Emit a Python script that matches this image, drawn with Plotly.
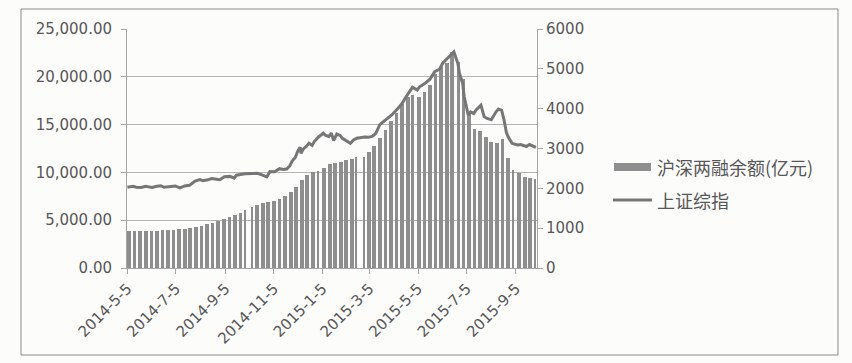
import plotly.graph_objects as go
import pandas as pd

# ---------------- data ----------------
# weekly two-financing balance (亿元), one value per trading week (week starting Monday)
week_starts = pd.date_range("2014-05-05", "2015-09-28", freq="W-MON")
margin_balance = [
    3900, 3900, 3890, 3890, 3900, 3910, 3930, 3960, 4020,            # 2014-05 .. 06-30
    4080, 4130, 4200, 4300, 4420, 4600, 4750, 4920,                  # 07-07 .. 08-25
    5100, 5300, 5520, 5780, 6080,                                    # 09-01 .. 09-29
    6400, 6600, 6750, 6900, 7050, 7250, 7500, 7900,                  # 10-06 .. 11-24
    8500, 9200, 9700, 10000, 10180,                                  # 12-01 .. 12-29
    10500, 10850, 11000, 11100, 11250, 11450, 11580, 11650,          # 2015-01-05 .. 02-23
    12100, 12800, 13600, 14400, 15400,                               # 03-02 .. 03-30
    16200, 17200, 17900, 18100, 17900, 18400, 19100, 20300,          # 04-06 .. 05-25
    21000, 21400, 22600, 21600, 19800,                               # 06-01 .. 06-29
    16200, 14500, 14300, 13700, 13200, 13100, 13500, 11500,          # 07-06 .. 08-24
    10300, 9900, 9550, 9380, 9280,                                   # 08-31 .. 09-28
]

# exchange holidays (weekdays without trading) and last trading day
holidays = [
    "2014-06-02", "2014-09-08",
    "2014-10-01", "2014-10-02", "2014-10-03", "2014-10-06", "2014-10-07",
    "2015-01-01", "2015-01-02",
    "2015-02-18", "2015-02-19", "2015-02-20", "2015-02-23", "2015-02-24",
    "2015-04-06", "2015-05-01", "2015-06-22", "2015-09-03", "2015-09-04",
]
last_day = "2015-09-30"

# Shanghai Composite index
sse_dates = [
    "2014-05-05", "2014-05-12", "2014-05-16", "2014-05-22", "2014-05-28", "2014-06-05",
    "2014-06-11", "2014-06-16", "2014-06-20", "2014-06-26", "2014-07-01", "2014-07-04",
    "2014-07-10", "2014-07-16", "2014-07-22", "2014-07-25", "2014-07-29", "2014-08-04",
    "2014-08-08", "2014-08-14", "2014-08-19", "2014-08-25", "2014-08-29", "2014-09-04",
    "2014-09-11", "2014-09-16", "2014-09-19", "2014-09-24", "2014-09-30", "2014-10-10",
    "2014-10-15", "2014-10-21", "2014-10-27", "2014-10-31", "2014-11-06", "2014-11-12",
    "2014-11-17", "2014-11-21", "2014-11-25", "2014-11-28", "2014-12-02", "2014-12-05",
    "2014-12-08", "2014-12-09", "2014-12-12", "2014-12-16", "2014-12-19", "2014-12-23",
    "2014-12-26", "2014-12-31", "2015-01-06", "2015-01-09", "2015-01-13", "2015-01-16",
    "2015-01-19", "2015-01-23", "2015-01-27", "2015-01-30", "2015-02-03", "2015-02-09",
    "2015-02-13", "2015-02-17", "2015-02-27", "2015-03-04", "2015-03-09", "2015-03-13",
    "2015-03-18", "2015-03-25", "2015-04-02", "2015-04-10", "2015-04-15", "2015-04-20",
    "2015-04-24", "2015-04-28", "2015-05-04", "2015-05-07", "2015-05-14", "2015-05-20",
    "2015-05-26", "2015-06-01", "2015-06-05", "2015-06-11", "2015-06-15", "2015-06-19",
    "2015-06-24", "2015-06-26", "2015-06-30", "2015-07-02", "2015-07-07", "2015-07-10",
    "2015-07-14", "2015-07-17", "2015-07-23", "2015-07-27", "2015-07-30", "2015-08-05",
    "2015-08-11", "2015-08-14", "2015-08-18", "2015-08-21", "2015-08-24", "2015-08-26",
    "2015-08-31", "2015-09-07", "2015-09-11", "2015-09-15", "2015-09-18", "2015-09-22",
    "2015-09-25", "2015-09-30",
]
sse_values = [
    2026, 2050, 2026, 2021, 2050, 2024,
    2054, 2066, 2026, 2037, 2050, 2059,
    2009, 2060, 2075, 2126, 2183, 2222,
    2194, 2213, 2245, 2229, 2217, 2289,
    2300, 2255, 2329, 2345, 2364, 2374,
    2378, 2340, 2290, 2420, 2414, 2494,
    2474, 2486, 2567, 2683, 2780, 2938,
    3030, 2880, 2990, 3060, 3130, 3080,
    3180, 3290, 3382, 3330, 3300, 3390,
    3200, 3364, 3330, 3256, 3200, 3130,
    3214, 3256, 3290, 3280, 3310, 3382,
    3600, 3716, 3841, 4009, 4130, 4300,
    4420, 4536, 4470, 4550, 4640, 4740,
    4930, 4990, 5140, 5260, 5350, 5430,
    5140, 4890, 4640, 4300, 3840, 3920,
    3880, 3970, 4090, 3800, 3760, 3720,
    3920, 3990, 3960, 3720, 3400, 3300,
    3130, 3090, 3100, 3060, 3050, 3100,
    3080, 3030,
]

tick_dates = ["2014-05-05", "2014-07-05", "2014-09-05", "2014-11-05", "2015-01-05",
              "2015-03-05", "2015-05-05", "2015-07-05", "2015-09-05"]
tick_text = ["2014-5-5", "2014-7-5", "2014-9-5", "2014-11-5", "2015-1-5",
             "2015-3-5", "2015-5-5", "2015-7-5", "2015-9-5"]

bar_name = "沪深两融余额(亿元)"
line_name = "上证综指"

# ---------------- build bar segments (one per run of trading days) ----------------
DAY = pd.Timedelta(days=1)
hol = set(pd.to_datetime(holidays))
end = pd.Timestamp(last_day)
bx, by, bw = [], [], []
for ws, val in zip(week_starts, margin_balance):
    days = [ws + k * DAY for k in range(5)]
    days = [d for d in days if d not in hol and d <= end]
    runs = []
    for d in days:
        if runs and d - runs[-1][-1] == DAY:
            runs[-1].append(d)
        else:
            runs.append([d])
    for r in runs:
        center = r[0] + (r[-1] - r[0]) / 2
        bx.append(center)
        by.append(val)
        bw.append((len(r) - 0.3) * 86400000)

BAR_COLOR = "#8e8e8e"
LINE_COLOR = "#767676"
TXT = "#575757"
GRID = "#b4b4b4"
AX = "#a6a6a6"

fig = go.Figure()
fig.add_trace(go.Bar(x=bx, y=by, width=bw, name=bar_name, marker=dict(color=BAR_COLOR, line=dict(width=0)),
                     showlegend=False))
fig.add_trace(go.Scatter(x=pd.to_datetime(sse_dates), y=sse_values, name=line_name, yaxis="y2",
                         mode="lines", line=dict(color=LINE_COLOR, width=3), showlegend=False))

# plot area geometry (px)
L, R, T, B = 127, 537, 29, 268
W, H = 852, 363
def px(x):
    return (x - L) / (R - L)
def py(y):
    return (B - y) / (B - T)

tickfont = dict(family="DejaVu Sans", size=15, color=TXT)
fig.update_layout(
    width=W, height=H,
    margin=dict(l=L, r=W - R, t=T, b=H - B, pad=0),
    paper_bgcolor="#fcfcfb", plot_bgcolor="#fcfcfb",
    bargap=0,
    xaxis=dict(type="date", range=["2014-05-04 12:00", "2015-10-01 10:00"],
               tickvals=pd.to_datetime(tick_dates), ticktext=tick_text, tickangle=-45,
               tickfont=tickfont, showgrid=False, showline=True, linecolor=AX, linewidth=1,
               ticks="outside", ticklen=5, tickcolor=AX, zeroline=False),
    yaxis=dict(range=[0, 25000], dtick=5000, tickformat=",.2f", tickfont=tickfont,
               showgrid=True, gridcolor=GRID, gridwidth=1, showline=True, linecolor=AX,
               ticks="outside", ticklen=5, tickcolor=AX, zeroline=False, ticklabelstandoff=6),
    yaxis2=dict(range=[0, 6000], dtick=1000, overlaying="y", side="right", tickfont=tickfont,
                showgrid=False, showline=True, linecolor=AX, ticks="outside", ticklen=5,
                tickcolor=AX, zeroline=False),
    font=dict(family="DejaVu Sans", color=TXT),
)

# outer chart border
fig.add_shape(type="rect", xref="paper", yref="paper", x0=px(21), x1=px(838), y0=py(355), y1=py(9),
              line=dict(color="#8a8a8a", width=1), fillcolor="rgba(0,0,0,0)", layer="below")

# legend (manual)
fig.add_shape(type="rect", xref="paper", yref="paper", x0=px(614), x1=px(651), y0=py(171), y1=py(163),
              line=dict(width=0), fillcolor=BAR_COLOR)
fig.add_shape(type="line", xref="paper", yref="paper", x0=px(613), x1=px(652), y0=py(200), y1=py(200),
              line=dict(color=LINE_COLOR, width=3))
legfont = dict(family="Noto Sans CJK SC", size=18, color=TXT)
fig.add_annotation(xref="paper", yref="paper", x=px(655), y=py(167), text=bar_name, showarrow=False,
                   xanchor="left", yanchor="middle", font=legfont)
fig.add_annotation(xref="paper", yref="paper", x=px(655), y=py(200), text=line_name, showarrow=False,
                   xanchor="left", yanchor="middle", font=legfont)

fig.write_html("out.html", config={"displayModeBar": False},
               post_script="document.body.style.margin='0px';")
